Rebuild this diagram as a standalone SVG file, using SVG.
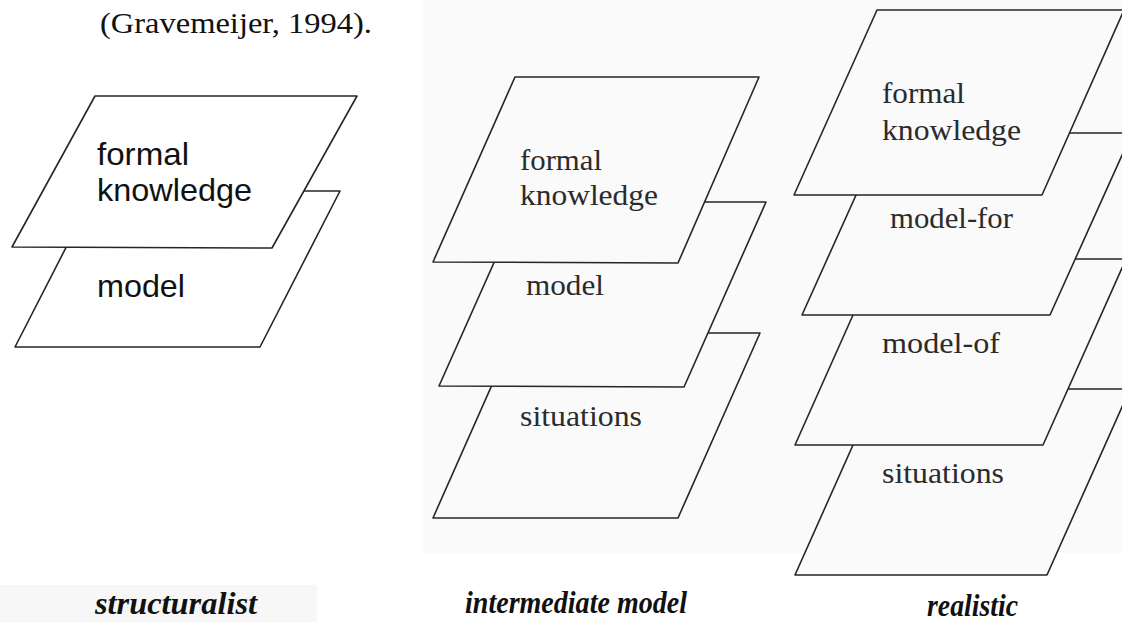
<svg xmlns="http://www.w3.org/2000/svg" width="1122" height="622" viewBox="0 0 1122 622">
<style>
.plate{stroke:#262626;stroke-width:1.6;stroke-linejoin:round}
.pw{fill:#ffffff}
.pg{fill:#fafafa}
.sans{font-family:"Liberation Sans",Arial,sans-serif;font-size:32px;fill:#111}
.serif{font-family:"Liberation Serif","Times New Roman",serif;font-size:30px;fill:#2b2b2b}
.cap{font-family:"Liberation Serif","Times New Roman",serif;font-size:31px;font-style:italic;font-weight:bold;fill:#111}
</style>
<rect x="0" y="0" width="1122" height="622" fill="#ffffff"/>
<rect x="423" y="0" width="699" height="553" fill="#fafafa"/>
<rect x="0" y="585" width="317" height="37" fill="#f7f7f7"/>

<text class="serif" x="100" y="33" font-size="31" textLength="272" lengthAdjust="spacingAndGlyphs" style="fill:#111">(Gravemeijer, 1994).</text>

<!-- structuralist -->
<g id="s-model">
<polygon class="plate pw" points="95,191 340,191 260,347 15,347"/>
<text class="sans" x="97" y="297" textLength="88" lengthAdjust="spacingAndGlyphs">model</text>
</g>
<g id="s-formal">
<polygon class="plate pw" points="95,96 357,96 272,248 12,247"/>
<text class="sans" x="97" y="165" textLength="92" lengthAdjust="spacingAndGlyphs">formal</text>
<text class="sans" x="97" y="201" textLength="155" lengthAdjust="spacingAndGlyphs">knowledge</text>
</g>

<!-- intermediate model -->
<g id="i-situations">
<polygon class="plate pg" points="515,333 760,333 678,518 433,518"/>
<text class="serif" x="520" y="426" textLength="122" lengthAdjust="spacingAndGlyphs">situations</text>
</g>
<g id="i-model">
<polygon class="plate pg" points="521,202 766,202 684,387 439,386"/>
<text class="serif" x="526" y="295" textLength="78" lengthAdjust="spacingAndGlyphs">model</text>
</g>
<g id="i-formal">
<polygon class="plate pg" points="515,77 759,77 678,263 433,262"/>
<text class="serif" x="520" y="170" textLength="82" lengthAdjust="spacingAndGlyphs">formal</text>
<text class="serif" x="520" y="205" textLength="138" lengthAdjust="spacingAndGlyphs">knowledge</text>
</g>

<!-- realistic -->
<g id="r-situations">
<polygon class="plate pg" points="878,389 1130,389 1047,575 795,575"/>
<text class="serif" x="882" y="483" textLength="122" lengthAdjust="spacingAndGlyphs">situations</text>
</g>
<g id="r-model-of">
<polygon class="plate pg" points="878,259 1126,259 1043,445 795,445"/>
<text class="serif" x="882" y="353" textLength="118" lengthAdjust="spacingAndGlyphs">model-of</text>
</g>
<g id="r-model-for">
<polygon class="plate pg" points="884,133 1132,133 1050,315 802,315"/>
<text class="serif" x="890" y="228" textLength="123" lengthAdjust="spacingAndGlyphs">model-for</text>
</g>
<g id="r-formal">
<polygon class="plate pg" points="877,10 1124,10 1042,195 794,195"/>
<text class="serif" x="882" y="103" textLength="83" lengthAdjust="spacingAndGlyphs">formal</text>
<text class="serif" x="882" y="140" textLength="139" lengthAdjust="spacingAndGlyphs">knowledge</text>
</g>

<g id="captions">
<text class="cap" x="95" y="614" textLength="162" lengthAdjust="spacingAndGlyphs">structuralist</text>
<text class="cap" x="465" y="613" textLength="222" lengthAdjust="spacingAndGlyphs">intermediate model</text>
<text class="cap" x="927" y="616" textLength="91" lengthAdjust="spacingAndGlyphs">realistic</text>
</g>
</svg>
